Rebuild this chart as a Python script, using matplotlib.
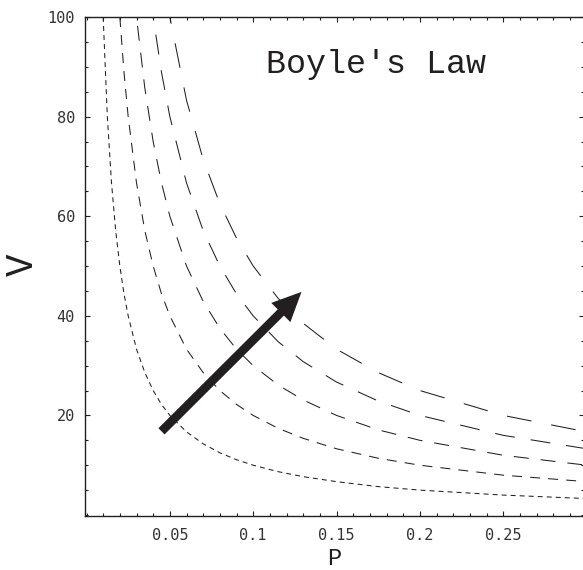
import matplotlib.pyplot as plt
from matplotlib.ticker import MultipleLocator

# pressure samples and volumes for V = k/P, k = 1..5
P = [0.010, 0.0125, 0.015, 0.0175, 0.020, 0.0225, 0.025, 0.030, 0.035, 0.040,
     0.045, 0.050, 0.060, 0.070, 0.080, 0.090, 0.100, 0.115, 0.130, 0.150,
     0.175, 0.200, 0.250, 0.300]
V1 = [100, 80, 66.7, 57.1, 50, 44.4, 40, 33.3, 28.6, 25, 22.2, 20, 16.7, 14.3,
      12.5, 11.1, 10, 8.7, 7.7, 6.7, 5.7, 5, 4, 3.3]
V2 = [200, 160, 133.3, 114.3, 100, 88.9, 80, 66.7, 57.1, 50, 44.4, 40, 33.3,
      28.6, 25, 22.2, 20, 17.4, 15.4, 13.3, 11.4, 10, 8, 6.7]
V3 = [300, 240, 200, 171.4, 150, 133.3, 120, 100, 85.7, 75, 66.7, 60, 50, 42.9,
      37.5, 33.3, 30, 26.1, 23.1, 20, 17.1, 15, 12, 10]
V4 = [400, 320, 266.7, 228.6, 200, 177.8, 160, 133.3, 114.3, 100, 88.9, 80,
      66.7, 57.1, 50, 44.4, 40, 34.8, 30.8, 26.7, 22.9, 20, 16, 13.3]
V5 = [500, 400, 333.3, 285.7, 250, 222.2, 200, 166.7, 142.9, 125, 111.1, 100,
      83.3, 71.4, 62.5, 55.6, 50, 43.5, 38.5, 33.3, 28.6, 25, 20, 16.7]
curves = [V1, V2, V3, V4, V5]
dashes = [(3.6, 2.9), (7.2, 5.8), (10.8, 8.6), (14.4, 11.5), (18, 14.4)]

arrow_from = (0.045, 16.8)
arrow_to = (0.129, 44.8)

ink = '#231f20'
plt.rcParams['lines.scale_dashes'] = False

fig = plt.figure(figsize=(5.83, 5.70), dpi=100)
ax = fig.add_axes([84.5/583, 54/570, 499.5/583, 499/570])

for v, d in zip(curves, dashes):
    ax.plot(P, v, color=ink, linewidth=0.75, dashes=d)

ax.annotate('', xy=arrow_to, xytext=arrow_from,
            arrowprops=dict(arrowstyle='simple,head_length=21,head_width=19.5,tail_width=6.3',
                            mutation_scale=1, color=ink, shrinkA=0, shrinkB=0, lw=0))

ax.text(0.174, 88.8, "Boyle's Law", family='Liberation Mono', fontsize=24,
        color=ink, ha='center', va='baseline')

ax.set_xlim(-0.0012, 0.2985)
ax.set_ylim(-0.2, 100)
ax.set_xticks([0.05, 0.1, 0.15, 0.2, 0.25])
ax.set_xticklabels(['0.05', '0.1', '0.15', '0.2', '0.25'])
ax.set_yticks([20, 40, 60, 80, 100])
ax.xaxis.set_minor_locator(MultipleLocator(0.01))
ax.yaxis.set_minor_locator(MultipleLocator(5))
ax.tick_params(which='both', direction='in', top=True, right=True,
               color=ink, width=0.8)
ax.tick_params(which='major', length=3.6)
ax.tick_params(which='minor', length=2.2)
ax.tick_params(axis='x', pad=9)
ax.tick_params(axis='y', pad=7)
for lab in ax.get_xticklabels() + ax.get_yticklabels():
    lab.set_family('DejaVu Sans Mono')
    lab.set_fontsize(11)
    lab.set_color('#333333')
for s in ax.spines.values():
    s.set_linewidth(1.0)
    s.set_color(ink)

ax.set_xlabel('P', family='Liberation Mono', fontsize=17, color=ink)
ax.xaxis.label.set_va('baseline')
ax.xaxis.set_label_coords(0.5, -(565 - 516) / 499)
ax.set_ylabel('V', family='Liberation Mono', fontsize=27, color=ink,
              rotation=90, rotation_mode='anchor', ha='center', va='baseline')
ax.yaxis.set_label_coords((33 - 84.5) / 499.5, (516 - 265) / 499)

fig.savefig('out.png', dpi=100)
